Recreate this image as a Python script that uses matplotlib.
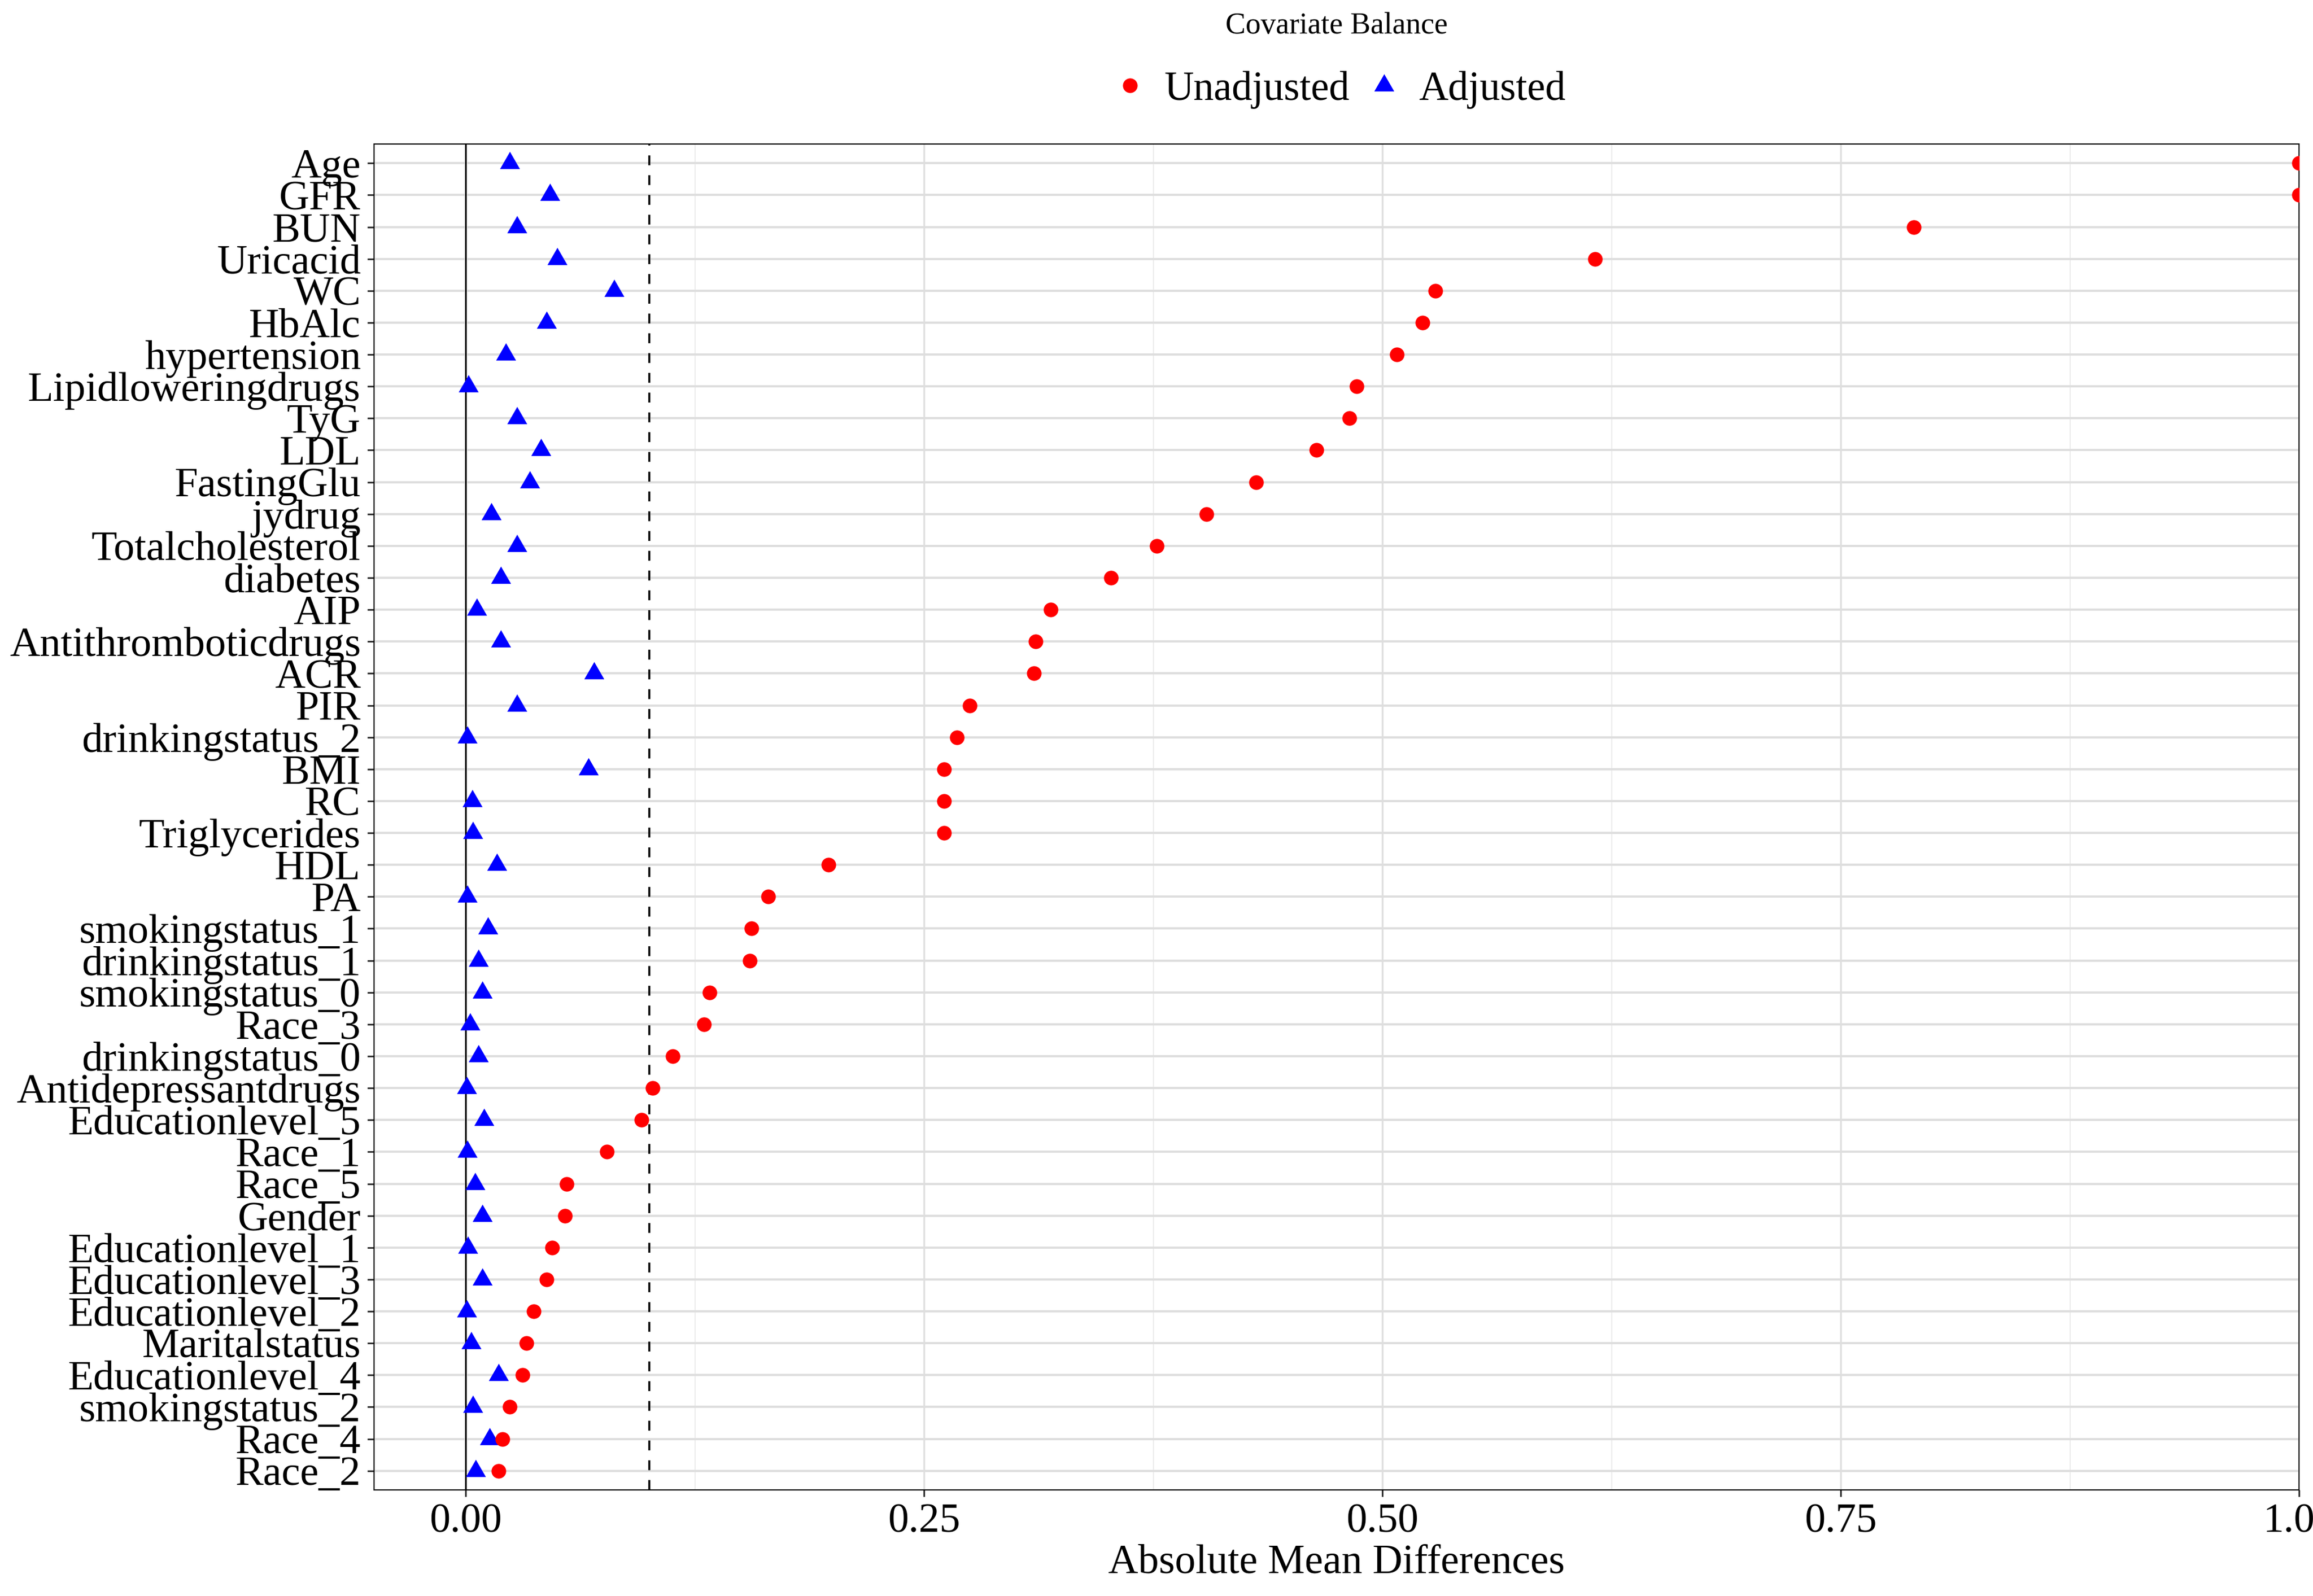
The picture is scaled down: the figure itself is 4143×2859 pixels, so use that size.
import numpy as np
import matplotlib
matplotlib.use("Agg")
import matplotlib.pyplot as plt
from matplotlib.path import Path

plt.rcParams['font.family'] = ['Liberation Serif', 'DejaVu Serif']

# covariates, top to bottom
covariates = ["Age", "GFR", "BUN", "Uricacid", "WC", "HbAlc", "hypertension",
              "Lipidloweringdrugs", "TyG", "LDL", "FastingGlu", "jydrug",
              "Totalcholesterol", "diabetes", "AIP", "Antithromboticdrugs", "ACR",
              "PIR", "drinkingstatus_2", "BMI", "RC", "Triglycerides", "HDL", "PA",
              "smokingstatus_1", "drinkingstatus_1", "smokingstatus_0", "Race_3",
              "drinkingstatus_0", "Antidepressantdrugs", "Educationlevel_5", "Race_1",
              "Race_5", "Gender", "Educationlevel_1", "Educationlevel_3",
              "Educationlevel_2", "Maritalstatus", "Educationlevel_4",
              "smokingstatus_2", "Race_4", "Race_2"]

unadjusted = [1.0, 1.0, 0.790, 0.616, 0.529, 0.522, 0.508, 0.486, 0.482, 0.464,
              0.431, 0.404, 0.377, 0.352, 0.319, 0.311, 0.310, 0.275, 0.268, 0.261,
              0.261, 0.261, 0.198, 0.165, 0.156, 0.155, 0.133, 0.130, 0.113, 0.102,
              0.096, 0.077, 0.055, 0.054, 0.047, 0.044, 0.037, 0.033, 0.031, 0.024,
              0.020, 0.018]

adjusted = [0.024, 0.046, 0.028, 0.050, 0.081, 0.044, 0.022, 0.0015, 0.028, 0.041,
            0.035, 0.014, 0.028, 0.019, 0.006, 0.019, 0.070, 0.028, 0.001, 0.067,
            0.0035, 0.004, 0.017, 0.001, 0.012, 0.007, 0.009, 0.0025, 0.007, 0.0005,
            0.010, 0.001, 0.005, 0.009, 0.0013, 0.009, 0.0005, 0.003, 0.018, 0.004,
            0.013, 0.0055]

threshold = 0.1
x_ticks = [0.0, 0.25, 0.5, 0.75, 1.0]
x_tick_labels = ["0.00", "0.25", "0.50", "0.75", "1.00"]
x_minor = [0.125, 0.375, 0.625, 0.875]

# equilateral triangle centred on its centroid (like R pch 17)
tri = Path([(-0.5, -0.2887), (0.5, -0.2887), (0.0, 0.5774), (-0.5, -0.2887)],
           [Path.MOVETO, Path.LINETO, Path.LINETO, Path.CLOSEPOLY])

W, H = 4143, 2859
fig = plt.figure(figsize=(W / 300, H / 300), dpi=300)
ax = fig.add_axes([670 / W, 1 - 2669 / H, (4118 - 670) / W, (2669 - 258) / H])

y = np.arange(len(covariates))

ax.axvline(0, color="black", lw=0.72, zorder=1.5)
ax.axvline(threshold, color="black", lw=0.85, ls=(0, (5, 5)), zorder=1.5)

h_adj, = ax.plot(adjusted, y, ls="none", marker=tri, ms=9.9, color="#0000FF",
                 mec="none", zorder=3, label="Adjusted")
h_un, = ax.plot(unadjusted, y, ls="none", marker="o", ms=6.3, color="#FF0000",
                mec="none", zorder=4, label="Unadjusted")

ax.set_xlim(-0.05, 1.0)
ax.set_ylim(len(covariates) - 1 + 0.6, -0.6)
ax.set_yticks(y)
ax.set_yticklabels(covariates, fontsize=18)
ax.set_xticks(x_ticks)
ax.set_xticklabels(x_tick_labels, fontsize=17.8)
ax.set_xticks(x_minor, minor=True)

ax.set_axisbelow(True)
ax.grid(True, axis="y", which="major", color="#DEDEDE", lw=0.96)
ax.grid(True, axis="x", which="major", color="#E0E0E0", lw=0.8)
ax.grid(True, axis="x", which="minor", color="#EBEBEB", lw=0.45)

ax.tick_params(axis="both", which="major", length=2.9, width=0.72, color="#333333",
               pad=2.8, labelcolor="black")
ax.tick_params(axis="x", which="minor", length=0)
for s in ax.spines.values():
    s.set_linewidth(0.5)
    s.set_color("black")

ax.set_xlabel("Absolute Mean Differences", fontsize=17.8, va="baseline")
ax.xaxis.set_label_coords(0.5, (42 - 190) / 2411)

fig.text(2394 / W, 1 - 60 / H, "Covariate Balance", fontsize=13, ha="center",
         va="baseline")
fig.legend([h_un, h_adj], ["Unadjusted", "Adjusted"], loc="center",
           bbox_to_anchor=(2405 / W, 1 - 161 / H), ncol=2, frameon=False,
           fontsize=17.5, handlelength=0.5, handletextpad=0.6, columnspacing=0.6,
           borderpad=0.2)

fig.savefig("out.png", dpi=300, facecolor="white")
